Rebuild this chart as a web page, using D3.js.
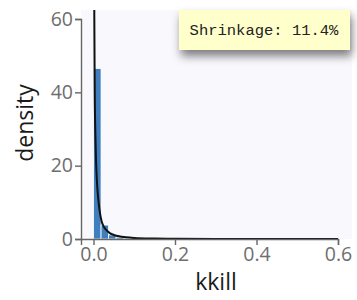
<!DOCTYPE html>
<html>
<head>
<meta charset="utf-8">
<script src="https://cdn.jsdelivr.net/npm/d3@7"></script>
<style>
  body { margin: 0; background: #fff; }
  svg { display: block; }
</style>
</head>
<body>
<div id="app"></div>
<script>
// histogram bins (left edge, density)
const binStarts = [0.0, 0.0185, 0.037, 0.0555, 0.074, 0.0925, 0.111, 0.1295];
const binDensity = [46.5, 3.8, 1.1, 0.5, 0.25, 0.15, 0.08, 0.05];
const binWidth = 0.0185;

// fitted density curve
const curveX = [0.0008, 0.002, 0.003, 0.0045, 0.006, 0.008, 0.01, 0.013, 0.016, 0.02, 0.025, 0.03, 0.04, 0.05, 0.06, 0.08, 0.1, 0.15, 0.2, 0.3, 0.4, 0.5, 0.6];
const curveY = [90, 60, 40, 29, 22, 16.5, 13, 9.5, 7, 4.8, 3.4, 2.6, 1.6, 1.1, 0.8, 0.45, 0.28, 0.12, 0.06, 0.02, 0.008, 0.004, 0.002];

const xTicks = [0, 0.2, 0.4, 0.6];
const yTicks = [0, 20, 40, 60];
const label = 'Shrinkage: 11.4%';

const W = 357, H = 300;
const panel = {left: 81, right: 352, top: 10, bottom: 239};

const svg = d3.select('#app').append('svg')
  .attr('width', W).attr('height', H);

const x = d3.scaleLinear().domain([-0.0307, 0.6]).range([81, 338]);
const y = d3.scaleLinear().domain([0, 60]).range([239, 19]);

// panel background
svg.append('rect')
  .attr('x', panel.left).attr('y', panel.top)
  .attr('width', panel.right - panel.left)
  .attr('height', panel.bottom - panel.top)
  .attr('fill', '#f8f8fd');

svg.append('clipPath').attr('id', 'clip')
  .append('rect')
  .attr('x', panel.left).attr('y', panel.top)
  .attr('width', panel.right - panel.left)
  .attr('height', panel.bottom - panel.top);

const plot = svg.append('g').attr('clip-path', 'url(#clip)');

// bars
plot.selectAll('rect.bar')
  .data(binStarts.map((s, i) => ({x0: s, x1: s + binWidth, d: binDensity[i]})))
  .join('rect')
  .attr('class', 'bar')
  .attr('x', d => x(d.x0))
  .attr('y', d => y(d.d))
  .attr('width', d => x(d.x1) - x(d.x0))
  .attr('height', d => y(0) - y(d.d))
  .attr('fill', '#3f7fbf')
  .attr('stroke', '#ffffff')
  .attr('stroke-width', 0.8);

// density line
plot.append('path')
  .datum(curveX.map((v, i) => [v, curveY[i]]))
  .attr('fill', 'none')
  .attr('stroke', '#111')
  .attr('stroke-width', 2)
  .attr('d', d3.line().x(d => x(d[0])).y(d => y(d[1])).curve(d3.curveMonotoneX));

// axes
const xAxis = svg.append('g')
  .attr('transform', 'translate(0,239)')
  .call(d3.axisBottom(x).tickValues(xTicks).tickFormat(d3.format('.1f')).tickSize(6).tickPadding(2));

const yAxis = svg.append('g')
  .attr('transform', 'translate(81,0)')
  .call(d3.axisLeft(y).tickValues(yTicks).tickSize(6).tickPadding(2));

[xAxis, yAxis].forEach(g => {
  g.selectAll('path, line').attr('stroke', '#666').attr('stroke-width', 1.4);
  g.selectAll('text')
    .attr('fill', '#6e6e6e')
    .style('font-family', '"Open Sans", sans-serif')
    .style('font-size', '19.5px');
});

// axis titles
svg.append('text')
  .attr('x', 216).attr('y', 290)
  .attr('text-anchor', 'middle')
  .style('font-family', '"Open Sans", sans-serif')
  .style('font-size', '23px')
  .attr('fill', '#1a1a1a')
  .text('kkill');

svg.append('text')
  .attr('transform', 'translate(33,123) rotate(-90)')
  .attr('text-anchor', 'middle')
  .style('font-family', '"Open Sans", sans-serif')
  .style('font-size', '23px')
  .attr('fill', '#1a1a1a')
  .text('density');

// annotation box with shadow
const defs = svg.append('defs');
const f = defs.append('filter').attr('id', 'shadow')
  .attr('x', '-30%').attr('y', '-50%').attr('width', '160%').attr('height', '250%');
f.append('feDropShadow')
  .attr('dx', 2).attr('dy', 6)
  .attr('stdDeviation', 5)
  .attr('flood-color', '#000')
  .attr('flood-opacity', 0.5);

svg.append('rect')
  .attr('x', 179).attr('y', 10)
  .attr('width', 171).attr('height', 40)
  .attr('fill', '#ffffcc')
  .attr('filter', 'url(#shadow)');

svg.append('text')
  .attr('x', 264).attr('y', 35)
  .attr('text-anchor', 'middle')
  .style('font-family', '"Liberation Mono", "Courier New", monospace')
  .style('font-size', '15.5px')
  .attr('fill', '#222')
  .text(label);
</script>
</body>
</html>
